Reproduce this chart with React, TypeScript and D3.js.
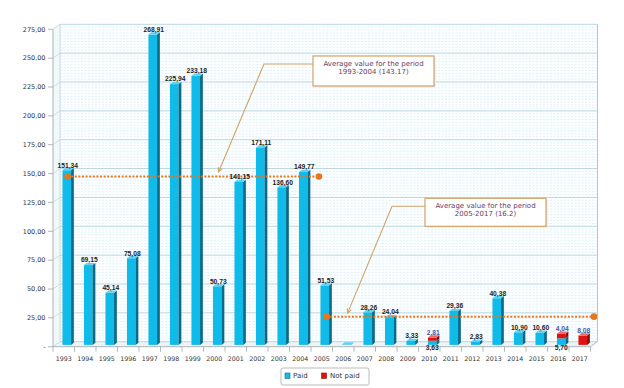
import React from "react";
import * as d3 from "d3";

const years = ["1993","1994","1995","1996","1997","1998","1999","2000","2001","2002","2003","2004","2005","2006","2007","2008","2009","2010","2011","2012","2013","2014","2015","2016","2017"];
const paid = [151.34,69.15,45.14,75.08,268.91,225.94,233.18,50.73,141.15,171.11,136.6,149.77,51.53,0.4,28.26,24.04,3.33,3.63,29.36,2.83,40.38,10.9,10.6,5.7,0];
const notPaid = [0,0,0,0,0,0,0,0,0,0,0,0,0,0,0,0,0,2.81,0,0,0,0,0,4.04,8.08];
const yTicks = [0,25,50,75,100,125,150,175,200,225,250,275];
const seriesNames = ["Paid", "Not paid"];
// average lines: [start index, end index, drawn level, text lines]
const avgStart = [0.18, 12.23];
const avgEnd = [11.87, 24.66];
const avgLevel = [143.17, 21.7];
const avgText1 = ["Average value for the period", "1993-2004 (143.17)"];
const avgText2 = ["Average value for the period", "2005-2017 (16.2)"];

const W = 624, H = 388;
const X0 = 53, X1 = 590.5;
const DX = 7, DY = -5; // depth of plot
const BDX = 3, BDY = -1.8; // bar front offset
const BW = 8.6, BD = 2.8, BDH = -2.2; // bar width, bar depth

const fmt = (v: number) => d3.format(".2f")(v).replace(".", ",");

export default function App() {
  const x = d3.scaleBand<string>().domain(years).range([X0, X1]).padding(0);
  const y = d3.scaleLinear().domain([0, 275]).range([346.7, 29.3]);
  const bw = x.bandwidth();
  const cx = (i: number) => X0 + bw * (i + 0.5);
  const minor = d3.range(0, 275.01, 2.5).filter((v) => Math.abs(v % 25) > 0.01);

  const bar = (key: string, xc: number, v0: number, v1: number, front: string, side: string, top: string) => {
    const l = xc + BDX - BW / 2, r = l + BW;
    const yt = y(v1) + BDY, yb = y(v0) + BDY;
    return (
      <g key={key}>
        <rect x={l} y={yt} width={BW} height={Math.max(0, yb - yt)} fill={front} />
        <path d={`M${r},${yt}L${r + BD},${yt + BDH}L${r + BD},${yb + BDH}L${r},${yb}Z`} fill={side} />
        <path d={`M${l},${yt}L${l + BD},${yt + BDH}L${r + BD},${yt + BDH}L${r},${yt}Z`} fill={top} />
      </g>
    );
  };

  const orange = "#e8761e";
  const tan = "#d2a466";
  const boxText = "#6e3b5e";

  const annot = (bx: number, by: number, bwid: number, bh: number, lines: string[], elbowX: number, tipX: number, tipY: number, k: string) => {
    const ly = by + 8;
    const ang = Math.atan2(tipY - ly, tipX - elbowX);
    const a1 = ang + Math.PI - 0.45, a2 = ang + Math.PI + 0.45;
    return (
      <g key={k}>
        <path d={`M${bx},${ly}L${elbowX},${ly}L${tipX},${tipY}`} fill="none" stroke={tan} strokeWidth={1.1} />
        <path d={`M${tipX + 5 * Math.cos(a1)},${tipY + 5 * Math.sin(a1)}L${tipX},${tipY}L${tipX + 5 * Math.cos(a2)},${tipY + 5 * Math.sin(a2)}`} fill="none" stroke={tan} strokeWidth={1.1} />
        <rect x={bx + 1.5} y={by + 1.5} width={bwid} height={bh} fill="#ece8e2" />
        <rect x={bx} y={by} width={bwid} height={bh} fill="#fff" stroke={tan} strokeWidth={1.2} />
        {lines.map((t, i) => (
          <text key={i} x={bx + bwid / 2} y={by + 9.5 + i * 8.5} textAnchor="middle" fontSize={7} fill={boxText} fontFamily="DejaVu Sans">{t}</text>
        ))}
      </g>
    );
  };

  return (
    <svg width={W} height={H} style={{ position: "absolute", left: 0, top: 0, background: "#fff" }}>
      {/* back wall */}
      <rect x={X0 + DX} y={y(275) + DY} width={X1 - X0} height={y(0) - y(275)} fill="#fcfeff" />
      {/* left wall */}
      <path d={`M${X0},${y(0)}L${X0 + DX},${y(0) + DY}L${X0 + DX},${y(275) + DY}L${X0},${y(275)}Z`} fill="#f6fafb" />
      {/* floor */}
      <path d={`M${X0},${y(0)}L${X0 + DX},${y(0) + DY}L${X1 + DX},${y(0) + DY}L${X1},${y(0)}Z`} fill="#eef3f5" />
      {/* minor grid */}
      {minor.map((v) => (
        <g key={"m" + v}>
          <line x1={X0 + DX} x2={X1 + DX} y1={y(v) + DY} y2={y(v) + DY} stroke="#d2edf4" strokeWidth={0.7} strokeDasharray="2,1.5" />
          <line x1={X0} x2={X0 + DX} y1={y(v)} y2={y(v) + DY} stroke="#deeff4" strokeWidth={0.5} />
        </g>
      ))}
      {/* major grid */}
      {yTicks.map((v) => (
        <g key={"g" + v}>
          <line x1={X0 + DX} x2={X1 + DX} y1={y(v) + DY} y2={y(v) + DY} stroke="#b8d6df" strokeWidth={1} />
          <line x1={X0} x2={X0 + DX} y1={y(v)} y2={y(v) + DY} stroke="#b8d6df" strokeWidth={0.8} />
          <line x1={X0 - 5} x2={X0} y1={y(v)} y2={y(v)} stroke="#9aa" strokeWidth={0.8} />
          <text x={45.5} y={y(v)} dy="0.35em" textAnchor="end" fontSize={6.5} fill="#333" fontFamily="DejaVu Sans">{v === 0 ? "-" : fmt(v)}</text>
        </g>
      ))}
      {/* wall borders */}
      <line x1={X0 + DX} x2={X0 + DX} y1={y(275) + DY} y2={y(0) + DY} stroke="#b8d6df" strokeWidth={0.8} />
      <line x1={X1 + DX} x2={X1 + DX} y1={y(275) + DY} y2={y(0) + DY} stroke="#b3c9d0" strokeWidth={1} />
      <line x1={X1} x2={X1 + DX} y1={y(0)} y2={y(0) + DY} stroke="#aab" strokeWidth={0.8} />
      <line x1={X0} x2={X0} y1={y(275)} y2={y(0)} stroke="#a9b4b8" strokeWidth={1} />
      <line x1={X0} x2={X1} y1={y(0)} y2={y(0)} stroke="#a9b4b8" strokeWidth={1} />
      {/* x ticks and labels */}
      {years.map((yr, i) => (
        <g key={"x" + yr}>
          <line x1={x(yr)!} x2={x(yr)!} y1={y(0)} y2={y(0) + 5} stroke="#9aa" strokeWidth={0.8} />
          <text x={cx(i)} y={361} textAnchor="middle" fontSize={6.3} fill="#333" fontFamily="DejaVu Sans">{yr}</text>
        </g>
      ))}
      <line x1={X1} x2={X1} y1={y(0)} y2={y(0) + 5} stroke="#9aa" strokeWidth={0.8} />
      {/* bars */}
      {years.map((yr, i) => (
        <g key={"b" + yr}>
          {paid[i] > 0 && bar("p" + i, cx(i), 0, paid[i], "#0fbbe8", "#0a6a88", "#5fd3f2")}
          {notPaid[i] > 0 && bar("n" + i, cx(i), paid[i], paid[i] + notPaid[i], "#e0120f", "#8c0a0a", "#f06a64")}
        </g>
      ))}
      {/* average lines */}
      {avgLevel.map((lv, k) => {
        const yy = y(lv) + DY;
        const xa = cx(avgStart[k]), xb = cx(avgEnd[k]);
        return (
          <g key={"a" + k}>
            <line x1={xa} x2={xb} y1={yy} y2={yy} stroke={orange} strokeWidth={2} strokeDasharray="2,1.6" />
            <circle cx={xa} cy={yy} r={3.3} fill={orange} />
            <circle cx={xb} cy={yy} r={3.3} fill={orange} />
          </g>
        );
      })}
      {/* value labels */}
      {years.map((yr, i) => {
        const out: React.ReactNode[] = [];
        const stacked = notPaid[i] > 0 && paid[i] > 0;
        if (paid[i] >= 1) {
          if (stacked) {
            out.push(<text key="p" x={cx(i) + BDX} y={350} textAnchor="middle" fontSize={6.7} fontWeight="bold" fill="#222" fontFamily="Liberation Sans">{fmt(paid[i])}</text>);
          } else {
            out.push(<text key="p" x={cx(i) + BDX + 1} y={y(paid[i]) - 4.5} textAnchor="middle" fontSize={6.7} fontWeight="bold" fill="#222" fontFamily="Liberation Sans">{fmt(paid[i])}</text>);
          }
        }
        if (notPaid[i] > 0) {
          out.push(<text key="n" x={cx(i) + BDX + 1} y={y(paid[i] + notPaid[i]) - 4.5} textAnchor="middle" fontSize={6.7} fontWeight="bold" fill="#4a55a6" fontFamily="Liberation Sans">{fmt(notPaid[i])}</text>);
        }
        return <g key={"l" + yr}>{out}</g>;
      })}
      {/* annotations */}
      {annot(313, 56, 121, 30, avgText1, 264, cx(7.2), y(avgLevel[0]) + DY - 4.5, "an1")}
      {annot(425, 198.3, 121, 28, avgText2, 392, cx(13.2), y(avgLevel[1]) + DY - 3.5, "an2")}
      {/* legend */}
      <rect x={281} y={368} width={88} height={17} rx={2} fill="#fff" stroke="#aaa" strokeWidth={0.8} />
      <rect x={285} y={373} width={5} height={5.5} fill="#12bde9" stroke="#0a6f8e" strokeWidth={0.6} />
      <text x={293} y={378} fontSize={7} fill="#333" fontFamily="DejaVu Sans">{seriesNames[0]}</text>
      <rect x={321.5} y={373} width={5} height={5.5} fill="#e0120f" stroke="#8c0a0a" strokeWidth={0.6} />
      <text x={330} y={378} fontSize={7} fill="#333" fontFamily="DejaVu Sans">{seriesNames[1]}</text>
    </svg>
  );
}
